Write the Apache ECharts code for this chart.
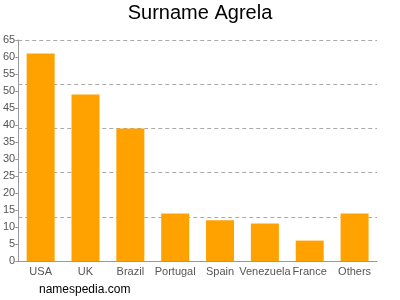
<!DOCTYPE html>
<html><head><meta charset="utf-8">
<script src="https://cdn.jsdelivr.net/npm/echarts@6/dist/echarts.min.js"></script>
<style>html,body{margin:0;padding:0;background:#fff}#c{width:400px;height:300px}</style>
</head><body><div id="c"></div>
<script>
const categories = ["USA","UK","Brazil","Portugal","Spain","Venezuela","France","Others"];
const values = [61,49,39,14,12,11,6,14];
const chart = echarts.init(document.getElementById('c'), null, {renderer:'canvas'});
chart.setOption({
  animation:false,
  backgroundColor:'#fff',
  title:[{text:'Surname Agrela',left:'center',top:3,padding:0,textStyle:{fontFamily:'Liberation Sans',fontSize:20,fontWeight:'normal',color:'#000'}},
         {text:'namespedia.com',left:39,top:284,padding:0,textStyle:{fontFamily:'Liberation Sans',fontSize:12,fontWeight:'normal',color:'#000'}}],
  grid:{left:18,right:23,top:40,bottom:39},
  xAxis:{type:'category',data:categories,
    axisLine:{lineStyle:{color:'#999'}},
    axisTick:{alignWithLabel:true,length:4,lineStyle:{color:'#999'}},
    axisLabel:{color:'#555',fontFamily:'Liberation Sans',fontSize:11,interval:0,margin:5}},
  yAxis:[{type:'value',min:0,max:65,interval:5,
    axisLine:{show:true,lineStyle:{color:'#999'}},
    axisTick:{show:true,length:3,lineStyle:{color:'#999'}},
    splitLine:{show:false},
    axisLabel:{color:'#555',fontFamily:'Liberation Sans',fontSize:11,margin:3}},
   {type:'value',min:0,max:65,interval:13,position:'left',
    axisLine:{show:false},axisTick:{show:false},axisLabel:{show:false},
    splitLine:{show:true,lineStyle:{color:'#aaa',type:[4,3]}}}],
  series:[{type:'bar',data:values,barWidth:28,yAxisIndex:0,
    itemStyle:{color:'#FFA200'}}]
});
</script></body></html>
